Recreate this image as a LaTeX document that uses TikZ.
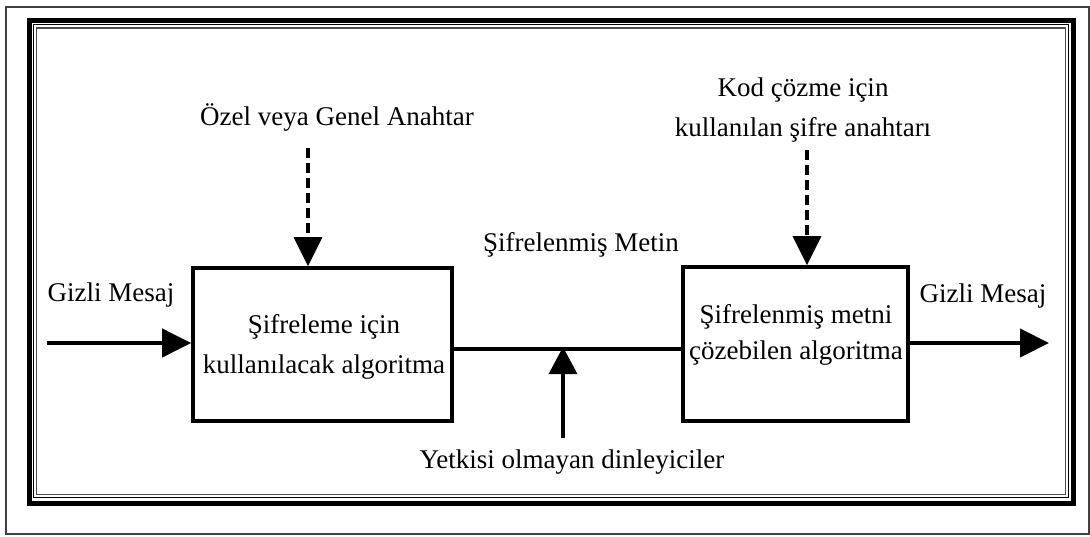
\documentclass[tikz,border=0pt]{standalone}
\usepackage{fontspec}
\setmainfont{Liberation Serif}
\usetikzlibrary{arrows.meta}
\begin{document}
\begin{tikzpicture}[x=1pt,y=-1pt,
  lbl/.style={font=\fontsize{27}{40}\selectfont, inner sep=0pt, align=center},
  blk/.style={draw, line width=3.6pt, inner sep=0pt, align=center, font=\fontsize{27}{40}\selectfont},
  bigtip/.style={-{Triangle[length=29pt,width=28pt]}},
  keyline/.style={line width=3.2pt, dash pattern=on 10pt off 5pt, bigtip},
]
\useasboundingbox (0,0) rectangle (1090,536);
% frames
\draw[black!75, line width=1.8pt] (6,7) rectangle (1089,534);
\draw[line width=5pt] (29,20) rectangle (1073,503);
\draw[line width=1.6pt] (33.5,24.5) rectangle (1068.5,497.5);
\draw[black!70, line width=1.4pt] (36.5,28) rectangle (1065.5,494.5);
% boxes
\node[blk, minimum width=259pt, minimum height=153pt] (enc) at (322.5,344.5) {};
\node[lbl, font=\fontsize{27}{40}\selectfont] (enct) at (324,347) {Şifreleme için\\kullanılacak algoritma};
\node[blk, minimum width=225pt, minimum height=154pt] (dec) at (795.5,344) {};
\node[lbl, font=\fontsize{27}{36}\selectfont] (dect) at (796,335) {Şifrelenmiş metni\\çözebilen algoritma};
% labels
\node[lbl] (key1) at (337,117) {Özel veya Genel Anahtar};
\node[lbl] (key2) at (803,110) {Kod çözme için\\kullanılan şifre anahtarı};
\node[lbl] (ct) at (581,245) {Şifrelenmiş Metin};
\node[lbl] (min) at (111,295) {Gizli Mesaj};
\node[lbl] (mout) at (983,296) {Gizli Mesaj};
\node[lbl] (eve) at (572,462) {Yetkisi olmayan dinleyiciler};
% coordinates
\coordinate (inS) at (47,343);
\coordinate (outE) at (1049,343);
\coordinate (mid) at (563,349);
\coordinate (eveS) at (563,438);
\coordinate (k1S) at (308,148);
\coordinate (k2S) at (807,150);
% connectors
\draw[line width=4pt, bigtip] (inS) -- (inS -| enc.west);
\draw[line width=4.4pt, bigtip] (outE -| dec.east) -- (outE);
\draw[line width=3.4pt] (mid -| enc.east) -- (mid -| dec.west);
\draw[line width=3.2pt, -{Triangle[length=27pt,width=28pt]}] (eveS) -- ([yshift=2pt]mid);
\draw[keyline] (k1S) -- (k1S |- enc.north);
\draw[keyline] (k2S) -- (k2S |- dec.north);
\end{tikzpicture}
\end{document}
